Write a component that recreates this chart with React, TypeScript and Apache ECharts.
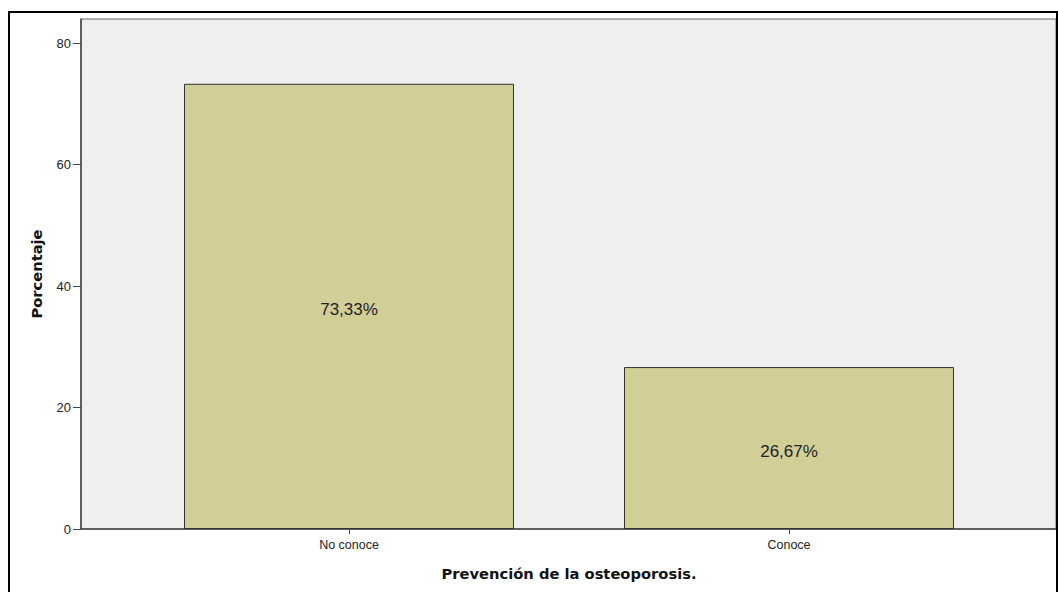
import React, { useEffect, useRef } from "react";
import * as echarts from "echarts";

const categories = ["No conoce", "Conoce"];
const percentages = [73.33, 26.67];
const barLabels = ["73,33%", "26,67%"];
const yTicks = [0, 20, 40, 60, 80];
const xTitle = "Prevención de la osteoporosis.";
const yTitle = "Porcentaje";

export default function App() {
  const ref = useRef<HTMLDivElement>(null);
  useEffect(() => {
    if (!ref.current) return;
    const chart = echarts.init(ref.current, null, { renderer: "svg" });
    const top = 19;
    const bottom = 63;
    chart.setOption({
      animation: false,
      backgroundColor: "#ffffff",
      grid: [
        {
          left: 81,
          right: 2,
          top,
          bottom,
          show: true,
          backgroundColor: "#efefef",
          borderColor: "#666",
          borderWidth: 1,
        },
        { left: 129, right: 49, top, bottom },
      ],
      xAxis: [
        {
          type: "value",
          gridIndex: 0,
          min: 0,
          max: 1,
          axisLine: { show: true, lineStyle: { color: "#444", width: 1.5 } },
          axisTick: { show: false },
          axisLabel: { show: false },
          splitLine: { show: false },
        },
        {
          type: "category",
          gridIndex: 1,
          data: categories,
          axisLine: { show: false },
          axisTick: { show: true, alignWithLabel: true, length: 5, lineStyle: { color: "#444" } },
          axisLabel: {
            margin: 9,
            fontFamily: "Liberation Sans",
            fontSize: 12.5,
            color: "#222",
          },
        },
      ],
      yAxis: [
        {
          type: "value",
          gridIndex: 0,
          min: 0,
          max: 84,
          axisLine: { show: true, lineStyle: { color: "#444", width: 1.5 } },
          axisTick: { show: true, length: 8, lineStyle: { color: "#444" }, customValues: yTicks },
          axisLabel: {
            margin: 10,
            fontFamily: "Liberation Sans",
            fontSize: 13,
            color: "#222",
            customValues: yTicks,
          },
          splitLine: { show: false },
        },
        {
          type: "value",
          gridIndex: 1,
          min: 0,
          max: 84,
          show: false,
        },
      ],
      series: [
        {
          type: "bar",
          xAxisIndex: 1,
          yAxisIndex: 1,
          data: percentages,
          barWidth: 330,
          itemStyle: { color: "#d2ce97", borderColor: "#333", borderWidth: 1 },
          label: {
            show: true,
            position: "inside",
            fontFamily: "Liberation Sans",
            fontSize: 17,
            color: "#222",
            offset: [0, 3],
            formatter: (p: any) => barLabels[p.dataIndex],
          },
        },
      ],
      graphic: [
        {
          type: "rect",
          shape: { x: 9, y: 12, width: 1048, height: 600 },
          style: { fill: "none", stroke: "#000", lineWidth: 2 },
          silent: true,
          z: 100,
        },
        {
          type: "text",
          x: 569,
          y: 573,
          style: {
            text: xTitle,
            fontFamily: "DejaVu Sans",
            fontWeight: "bold",
            fontSize: 14.7,
            fill: "#111",
            align: "center",
            verticalAlign: "middle",
          },
        },
        {
          type: "text",
          x: 36,
          y: 274,
          rotation: Math.PI / 2,
          style: {
            text: yTitle,
            fontFamily: "DejaVu Sans",
            fontWeight: "bold",
            fontSize: 14.7,
            fill: "#111",
            align: "center",
            verticalAlign: "middle",
          },
        },
      ],
    });
    return () => chart.dispose();
  }, []);
  return (
    <div
      ref={ref}
      style={{ position: "fixed", left: 0, top: 0, width: 1058, height: 592 }}
    />
  );
}
